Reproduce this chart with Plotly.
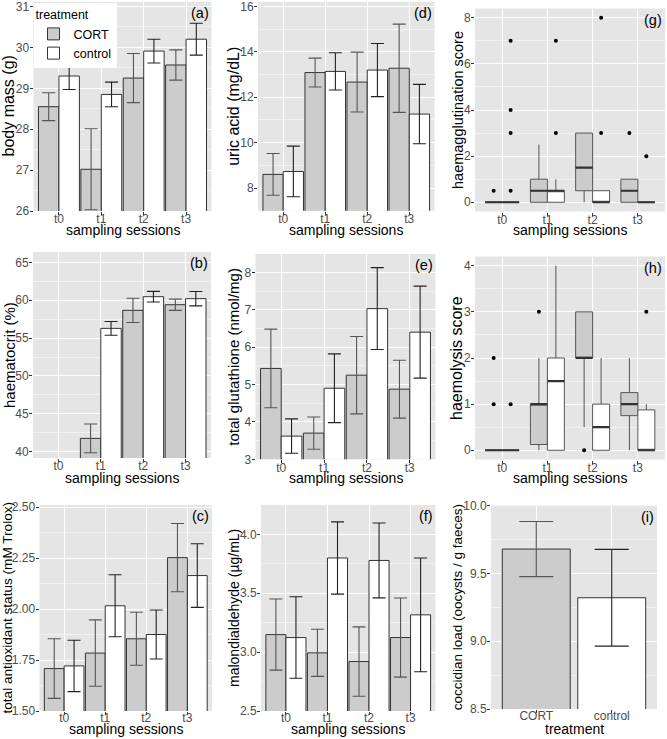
import plotly.graph_objects as go

W, H = 667, 739
sessions = ["t0", "t1", "t2", "t3"]
treatments = ["CORT", "control"]

# (a) body mass (g)
mass_cort = [28.55, 27.02, 29.25, 29.57]
mass_cort_se = [0.34, 0.99, 0.60, 0.37]
mass_ctrl = [29.30, 28.85, 29.91, 30.20]
mass_ctrl_se = [0.33, 0.30, 0.29, 0.39]

# (b) haematocrit (%)
hct_cort = [None, 41.76, 58.66, 59.40]
hct_cort_se = [None, 1.90, 1.60, 0.74]
hct_ctrl = [None, 56.28, 60.46, 60.20]
hct_ctrl_se = [None, 0.90, 0.70, 0.95]

# (c) total antioxidant status (mM Trolox)
tas_cort = [1.708, 1.784, 1.854, 2.252]
tas_cort_se = [0.146, 0.163, 0.130, 0.167]
tas_ctrl = [1.721, 2.016, 1.875, 2.164]
tas_ctrl_se = [0.126, 0.152, 0.120, 0.156]

# (d) uric acid (mg/dL)
ua_cort = [8.60, 13.09, 12.67, 13.28]
ua_cort_se = [0.92, 0.635, 1.32, 1.945]
ua_ctrl = [8.73, 13.14, 13.20, 11.26]
ua_ctrl_se = [1.115, 0.82, 1.17, 1.31]

# (e) total glutathione (nmol/mg)
gsh_cort = [5.43, 3.70, 5.25, 4.875]
gsh_cort_se = [1.05, 0.43, 1.035, 0.775]
gsh_ctrl = [3.62, 4.90, 7.03, 6.40]
gsh_ctrl_se = [0.46, 0.92, 1.095, 1.23]

# (f) malondialdehyde (ug/mL)
mda_cort = [3.149, 2.994, 2.920, 3.124]
mda_cort_se = [0.302, 0.200, 0.295, 0.336]
mda_ctrl = [3.124, 3.800, 3.779, 3.317]
mda_ctrl_se = [0.346, 0.307, 0.318, 0.483]

# (i) coccidian load
cocc_vals = [9.68, 9.321]
cocc_se = [0.203, 0.357]

# (g) haemagglutination score boxplots
hag_cort_q1 = [0, 0, 0.5, 0]
hag_cort_med = [0, 0.5, 1.5, 0.5]
hag_cort_q3 = [0, 1, 3, 1]
hag_cort_lo = [0, 0, 0, 0]
hag_cort_hi = [0, 2.5, 3, 1]
hag_cort_out = [[0.5], [], [], [3]]
hag_ctrl_q1 = [0, 0, 0, 0]
hag_ctrl_med = [0, 0.5, 0, 0]
hag_ctrl_q3 = [0, 0.5, 0.5, 0]
hag_ctrl_lo = [0, 0, 0, 0]
hag_ctrl_hi = [0, 1, 0.5, 0]
hag_ctrl_out = [[0.5, 3, 4, 7], [3, 7], [3, 8], [2]]

# (h) haemolysis score boxplots
hly_cort_q1 = [0, 0.125, 2, 0.75]
hly_cort_med = [0, 1, 2, 1]
hly_cort_q3 = [0, 1, 3, 1.25]
hly_cort_lo = [0, 0, 0.5, 0]
hly_cort_hi = [0, 2, 3, 2]
hly_cort_out = [[1, 2], [3], [0], []]
hly_ctrl_q1 = [0, 0, 0, 0]
hly_ctrl_med = [0, 1.5, 0.5, 0]
hly_ctrl_q3 = [0, 2, 1, 0.875]
hly_ctrl_lo = [0, 0, 0, 0]
hly_ctrl_hi = [0, 4, 2, 1]
hly_ctrl_out = [[1], [], [], [3]]

FONT = "Liberation Sans, Arial, sans-serif"
CORT_FILL = "#CCCCCC"
CTRL_FILL = "#FFFFFF"
EDGE = "#333333"
ERR_CORT = "#555555"
ERR_CTRL = "#222222"
BOX_LINE = "#555555"
PANEL_BG = "#E5E5E5"
TICK_SIZE = 12

# panel geometry (pixels): plot-area x/y extents, y-title centre x, x-title centre y, x tick standoff
panels = [
    dict(key="a", xd=(33.5, 211.5), yd=(2, 211), yr=[26, 31.11], dt=1, fmt="", yt="body mass (g)", ts=16, ytx=8, xty=230, xso=-6, kind="bar"),
    dict(key="b", xd=(33, 211), yd=(252, 458), yr=[39.17, 66.36], dt=5, fmt="", yt="haematocrit (%)", ts=15, ytx=9, xty=478, xso=-6, kind="bar"),
    dict(key="c", xd=(39.5, 212), yd=(505, 711), yr=[1.5, 2.51], dt=0.25, fmt=".2f", yt="total antioxidant status (mM Trolox)", ts=13.6, ytx=6.5, xty=729, xso=-7, kind="bar"),
    dict(key="d", xd=(258, 434.5), yd=(2, 210.7), yr=[7.0, 16.2], dt=2, fmt="", yt="uric acid (mg/dL)", ts=16, ytx=233.5, xty=230, xso=-6, kind="bar"),
    dict(key="e", xd=(255.5, 435.5), yd=(254, 459.3), yr=[3, 8.49], dt=1, fmt="", yt="total glutathione (nmol/mg)", ts=15, ytx=234, xty=478, xso=-6, kind="bar"),
    dict(key="f", xd=(261, 435.5), yd=(505, 711), yr=[2.5, 4.25], dt=0.5, fmt=".1f", yt="malondialdehyde (µg/mL)", ts=14, ytx=234, xty=729, xso=-7, kind="bar"),
    dict(key="g", xd=(475, 665), yd=(8.5, 211.5), yr=[-0.4, 8.4], dt=2, fmt="", yt="haemagglutination score", ts=14.5, ytx=458, xty=230, xso=-6, kind="box"),
    dict(key="h", xd=(475, 665), yd=(256.5, 459.5), yr=[-0.2, 4.2], dt=1, fmt="", yt="haemolysis score", ts=16, ytx=457, xty=478, xso=-6, kind="box"),
    dict(key="i", xd=(491, 657), yd=(505.7, 709), yr=[8.5, 10.0], dt=0.5, fmt=".1f", yt="coccidian load (oocysts / g faeces)", ts=13.5, ytx=457, xty=729, xso=-7, kind="bar1"),
]

fig = go.Figure()


def axn(n):
    return "" if n == 1 else str(n)


def add_bars(n, cort, cort_se, ctrl, ctrl_se, showlegend=False):
    s = axn(n)
    fig.add_trace(go.Bar(
        x=sessions, y=cort, name="CORT", legendgroup="CORT", showlegend=showlegend,
        marker=dict(color=CORT_FILL, line=dict(color=EDGE, width=1)),
        error_y=dict(type="data", array=cort_se, color=ERR_CORT, thickness=1.1, width=6.5),
        xaxis="x" + s, yaxis="y" + s))
    fig.add_trace(go.Bar(
        x=sessions, y=ctrl, name="control", legendgroup="control", showlegend=showlegend,
        marker=dict(color=CTRL_FILL, line=dict(color=EDGE, width=1)),
        error_y=dict(type="data", array=ctrl_se, color=ERR_CTRL, thickness=1.1, width=6.5),
        xaxis="x" + s, yaxis="y" + s))


def add_boxes(n, q1, med, q3, lo, hi, outl, fill, shift):
    s = axn(n)
    bw = 0.375
    pos = [i + shift for i in range(len(sessions))]
    fig.add_trace(go.Box(
        x=pos, q1=q1, median=med, q3=q3, lowerfence=lo, upperfence=hi,
        width=bw, fillcolor=fill, line=dict(color=BOX_LINE, width=1),
        whiskerwidth=0, boxpoints=False, showlegend=False, hoverinfo="skip",
        xaxis="x" + s, yaxis="y" + s))
    mx, my = [], []
    for p, m in zip(pos, med):
        mx += [p - bw / 2, p + bw / 2, None]
        my += [m, m, None]
    fig.add_trace(go.Scatter(x=mx, y=my, mode="lines", line=dict(color="#333333", width=2.2),
                             showlegend=False, hoverinfo="skip", xaxis="x" + s, yaxis="y" + s))
    ox, oy = [], []
    for p, vals in zip(pos, outl):
        for v in vals:
            ox.append(p)
            oy.append(v)
    fig.add_trace(go.Scatter(x=ox, y=oy, mode="markers", marker=dict(color="black", size=4),
                             showlegend=False, hoverinfo="skip", xaxis="x" + s, yaxis="y" + s))


add_bars(1, mass_cort, mass_cort_se, mass_ctrl, mass_ctrl_se, showlegend=True)
add_bars(2, hct_cort, hct_cort_se, hct_ctrl, hct_ctrl_se)
add_bars(3, tas_cort, tas_cort_se, tas_ctrl, tas_ctrl_se)
add_bars(4, ua_cort, ua_cort_se, ua_ctrl, ua_ctrl_se)
add_bars(5, gsh_cort, gsh_cort_se, gsh_ctrl, gsh_ctrl_se)
add_bars(6, mda_cort, mda_cort_se, mda_ctrl, mda_ctrl_se)

add_boxes(7, hag_cort_q1, hag_cort_med, hag_cort_q3, hag_cort_lo, hag_cort_hi, hag_cort_out, CORT_FILL, -0.1875)
add_boxes(7, hag_ctrl_q1, hag_ctrl_med, hag_ctrl_q3, hag_ctrl_lo, hag_ctrl_hi, hag_ctrl_out, CTRL_FILL, 0.1875)
add_boxes(8, hly_cort_q1, hly_cort_med, hly_cort_q3, hly_cort_lo, hly_cort_hi, hly_cort_out, CORT_FILL, -0.1875)
add_boxes(8, hly_ctrl_q1, hly_ctrl_med, hly_ctrl_q3, hly_ctrl_lo, hly_ctrl_hi, hly_ctrl_out, CTRL_FILL, 0.1875)

for t, v, e, fill, ec in zip(treatments, cocc_vals, cocc_se, [CORT_FILL, CTRL_FILL], [ERR_CORT, ERR_CTRL]):
    fig.add_trace(go.Bar(
        x=[t], y=[v], width=[0.9], offset=[-0.45], showlegend=False, name=t,
        marker=dict(color=fill, line=dict(color=EDGE, width=1)),
        error_y=dict(type="data", array=[e], color=ec, thickness=1.1, width=17),
        xaxis="x9", yaxis="y9"))

layout = dict(
    width=W, height=H, margin=dict(l=0, r=0, t=0, b=0),
    template="none", paper_bgcolor="white", plot_bgcolor=PANEL_BG,
    font=dict(family=FONT, color="black"),
    barmode="group", bargap=0.035, bargroupgap=0,
    legend=dict(x=33.5 / W, y=1 - 3 / H, xanchor="left", yanchor="top", bgcolor="white",
                borderwidth=0, font=dict(size=12.5, family=FONT),
                title=dict(text="treatment", font=dict(size=12.5, family=FONT)),
                tracegroupgap=0, itemwidth=30),
    annotations=[],
)

for i, p in enumerate(panels):
    n = i + 1
    s = axn(n)
    ncat = 2 if p["kind"] == "bar1" else 4
    xa = dict(
        domain=[p["xd"][0] / W, p["xd"][1] / W], anchor="y" + s,
        range=[-0.6, ncat - 1 + 0.6], showgrid=True, gridcolor="white", gridwidth=1.1,
        zeroline=False, showline=False, automargin=False,
        ticks="outside", ticklen=3, tickwidth=1, tickcolor="#333333",
        ticklabelstandoff=p["xso"], ticklabeloverflow="allow",
        tickfont=dict(size=TICK_SIZE, color="#4D4D4D", family=FONT),
    )
    if p["kind"] == "box":
        xa.update(type="linear", tickmode="array", tickvals=list(range(len(sessions))), ticktext=sessions)
    else:
        xa.update(type="category")
    ya = dict(
        domain=[1 - p["yd"][1] / H, 1 - p["yd"][0] / H], anchor="x" + s,
        range=p["yr"], tick0=0, dtick=p["dt"], tickformat=p["fmt"],
        showgrid=True, gridcolor="white", gridwidth=1.1,
        minor=dict(dtick=p["dt"] / 2, tick0=0, showgrid=True, gridcolor="#F2F2F2", gridwidth=0.6, ticks=""),
        zeroline=False, showline=False, automargin=False,
        ticks="outside", ticklen=3, tickwidth=1, tickcolor="#333333",
        ticklabelstandoff=-2, ticklabeloverflow="allow",
        tickfont=dict(size=TICK_SIZE, color="#4D4D4D", family=FONT),
    )
    layout["xaxis" + s] = xa
    layout["yaxis" + s] = ya
    # panel tag
    layout["annotations"].append(dict(
        text="(" + p["key"] + ")", xref="x" + s + " domain", yref="y" + s + " domain",
        x=0.995, y=0.995, xanchor="right", yanchor="top", showarrow=False,
        font=dict(size=14.5, color="black", family=FONT)))
    # y-axis title
    layout["annotations"].append(dict(
        text=p["yt"], xref="paper", x=p["ytx"] / W, yref="y" + s + " domain", y=0.5,
        xanchor="center", yanchor="middle", textangle=-90, showarrow=False,
        font=dict(size=p["ts"], color="black", family=FONT)))
    # x-axis title
    layout["annotations"].append(dict(
        text="treatment" if p["kind"] == "bar1" else "sampling sessions",
        xref="x" + s + " domain", x=0.5, yref="paper", y=1 - p["xty"] / H,
        xanchor="center", yanchor="middle", showarrow=False,
        font=dict(size=14, color="black", family=FONT)))

fig.update_layout(**layout)
fig.write_html("out.html", config={"displayModeBar": False},
               post_script="document.body.style.margin='0px';document.body.style.overflow='hidden';")
